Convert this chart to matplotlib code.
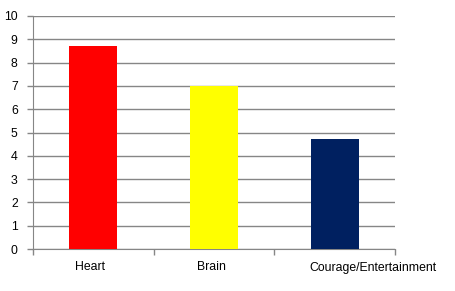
import matplotlib
matplotlib.use("Agg")
from matplotlib import pyplot as plt
from matplotlib import transforms

# data
categories = ["Heart", "Brain", "Courage/Entertainment"]
values = [8.72, 7.0, 4.72]
colors = ["#FF0000", "#FFFF00", "#002060"]

plt.rcParams['font.family'] = ['Liberation Sans', 'DejaVu Sans']
grid_color = "#868686"

fig = plt.figure(figsize=(4.56, 2.91), dpi=100)
ax = fig.add_axes([33/456, 42/291, 362/456, 233/291])

x = list(range(len(categories)))
ax.bar(x, values, width=0.4, color=colors, zorder=3)

ax.set_xlim(-0.5, len(categories) - 0.5)
ax.set_ylim(0, 10)
ax.set_yticks(range(0, 11))
ax.yaxis.grid(True, color=grid_color, linewidth=1, zorder=0)

# category labels, ticks at boundaries
ax.set_xticks(x)
ax.set_xticklabels(categories, fontsize=8.8)
ax.tick_params(axis='x', which='major', length=0, pad=9)
ax.set_xticks([i - 0.5 for i in range(len(categories) + 1)], minor=True)
ax.tick_params(axis='x', which='minor', length=4, color=grid_color, width=1)
ax.tick_params(axis='y', length=4, color=grid_color, width=1, labelsize=8.8, pad=7)

# the long label sits off to the right in the original
labels = ax.get_xticklabels()
shift = transforms.ScaledTranslation(0.38, 0, fig.dpi_scale_trans)
labels[2].set_transform(labels[2].get_transform() + shift)
for lab in labels[:2]:
    lab.set_transform(lab.get_transform() + transforms.ScaledTranslation(-0.03, 0, fig.dpi_scale_trans))

for side in ["top", "right"]:
    ax.spines[side].set_visible(False)
ax.spines["left"].set_color(grid_color)
ax.spines["bottom"].set_color(grid_color)

fig.savefig("out.png", dpi=100)
